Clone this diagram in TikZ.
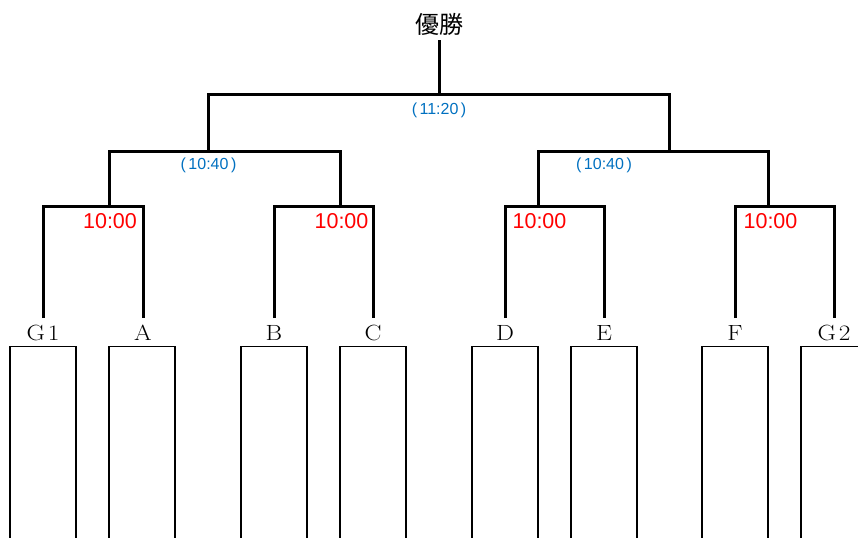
\documentclass[tikz,border=0pt]{standalone}
\usepackage{fontspec}
\usepackage{graphicx}
\newfontfamily\cjkfont{Noto Sans CJK JP}
\newfontfamily\lsans{Liberation Sans}
\definecolor{tblue}{RGB}{0,112,192}
\tikzset{
  br/.style={line width=3bp},
  leaf/.style={anchor=north, inner xsep=0pt, inner ysep=7bp, text height=15bp, text depth=0bp,
    font=\fontsize{22bp}{24bp}\selectfont},
  cell/.style={draw, line width=1.2bp, anchor=north, minimum width=66bp, minimum height=260bp, inner sep=0pt},
  tred/.style={anchor=base, inner sep=0pt, text=red, font=\lsans\fontsize{21.5bp}{24bp}\selectfont},
  tblu/.style={anchor=base, inner sep=0pt, text=tblue, font=\lsans\fontsize{16bp}{18bp}\selectfont},
  win/.style={anchor=base, inner xsep=0pt, inner ysep=6.5bp, text depth=0pt,
    font=\cjkfont\fontsize{24bp}{26bp}\selectfont},
}
\newcommand{\lab}[1]{\scalebox{1.15}[1]{#1}}
\begin{document}
\begin{tikzpicture}[x=1bp,y=-1bp]
\useasboundingbox (0,0) rectangle (858,538);
\clip (0,0) rectangle (858,538);
% entry boxes
\node[cell] (b1) at (43,346) {};
\node[cell] (b2) at (142,346) {};
\node[cell] (b3) at (274,346) {};
\node[cell] (b4) at (373,346) {};
\node[cell] (b5) at (505,346) {};
\node[cell] (b6) at (604,346) {};
\node[cell] (b7) at (735,346) {};
\node[cell] (b8) at (834,346) {};
% labels
\node[leaf] (g1) at (43,318) {\lab{G\kern2.5bp 1}};
\node[leaf] (a) at (143,318) {\lab{A}};
\node[leaf] (b) at (274,318) {\lab{B}};
\node[leaf] (c) at (373,318) {\lab{C}};
\node[leaf] (d) at (505,318) {\lab{D}};
\node[leaf] (e) at (604,318) {\lab{E}};
\node[leaf] (f) at (735,318) {\lab{F}};
\node[leaf] (g2) at (834,318) {\lab{G\kern2.5bp 2}};
% junctions
\coordinate (m1) at (109,207);
\coordinate (m2) at (340,207);
\coordinate (m3) at (538,207);
\coordinate (m4) at (768,207);
\coordinate (s1) at (208,152);
\coordinate (s2) at (669,152);
\coordinate (fin) at (439,95);
\node[win] (champ) at (439,33.5) {優勝};
% brackets
\draw[br] (g1.north) |- (m1) -| (a.north);
\draw[br] (b.north) |- (m2) -| (c.north);
\draw[br] (d.north) |- (m3) -| (e.north);
\draw[br] (f.north) |- (m4) -| (g2.north);
\draw[br] (m1) |- (s1) -| (m2);
\draw[br] (m3) |- (s2) -| (m4);
\draw[br] (s1) |- (fin) -| (s2);
\draw[br] (fin) -- (champ.south);
% times
\node[tred] (t1) at (110,228.5) {10:00};
\node[tred] (t2) at (341.5,228.5) {10:00};
\node[tred] (t3) at (539.5,228.5) {10:00};
\node[tred] (t4) at (770.5,228.5) {10:00};
\node[tblu] (u1) at (208.5,169.5) {(\kern2.5bp 10:40\kern2.5bp)};
\node[tblu] (u2) at (604,169.5) {(\kern2.5bp 10:40\kern2.5bp)};
\node[tblu] (u3) at (439,115) {(\kern2.5bp 11:20\kern2.5bp)};
\end{tikzpicture}
\end{document}
